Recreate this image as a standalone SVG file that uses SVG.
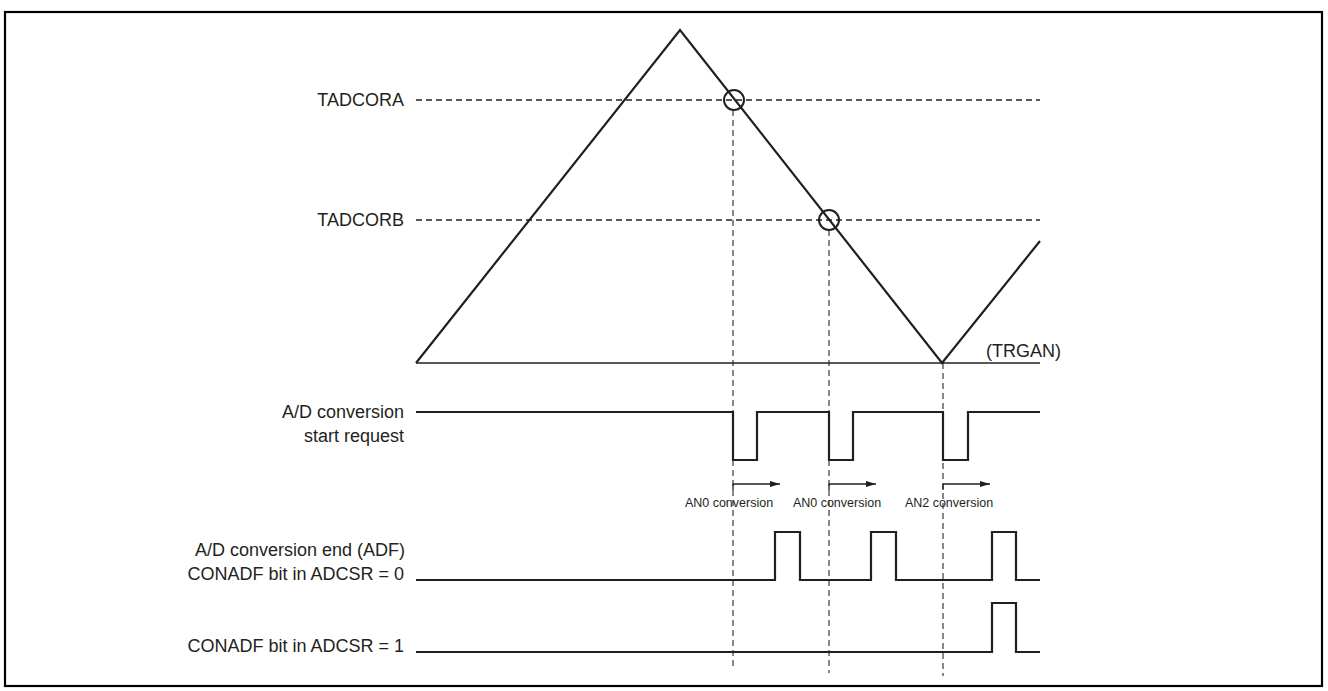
<svg xmlns="http://www.w3.org/2000/svg" width="1328" height="691" viewBox="0 0 1328 691">
<style>
.frame{fill:none;stroke:#000;stroke-width:2.2}
.wave{fill:none;stroke:#231f20;stroke-width:2.2;stroke-linejoin:miter}
.base{fill:none;stroke:#231f20;stroke-width:1.4}
.hd{fill:none;stroke:#222;stroke-width:1.3;stroke-dasharray:6 4}
.vd{fill:none;stroke:#555;stroke-width:1.4;stroke-dasharray:6 4}
.circ{fill:none;stroke:#231f20;stroke-width:2}
.arr{fill:none;stroke:#231f20;stroke-width:1.3}
.lbl{font-family:"Liberation Sans",Arial,sans-serif;font-size:18px;fill:#231f20}
.sm{font-family:"Liberation Sans",Arial,sans-serif;font-size:12.5px;fill:#231f20;text-anchor:middle}
</style>
<defs>
<marker id="ah" viewBox="0 0 10 6" refX="10" refY="3" markerWidth="10" markerHeight="6" markerUnits="userSpaceOnUse" orient="auto">
<path d="M0,0 L10,3 L0,6 Z" fill="#231f20"/>
</marker>
</defs>
<rect class="frame" x="5" y="12" width="1317" height="674"/>
<g id="connectors">
<line class="hd" x1="416" y1="100" x2="1040" y2="100"/>
<line class="hd" x1="416" y1="220" x2="1040" y2="220"/>
<line class="vd" x1="733" y1="110" x2="733" y2="670"/>
<line class="vd" x1="829" y1="230" x2="829" y2="673"/>
<line class="vd" x1="943" y1="363" x2="943" y2="676"/>
<line class="arr" x1="733" y1="490" x2="733" y2="484"/>
<line class="arr" x1="733" y1="484" x2="780" y2="484" marker-end="url(#ah)"/>
<line class="arr" x1="829" y1="490" x2="829" y2="484"/>
<line class="arr" x1="829" y1="484" x2="876" y2="484" marker-end="url(#ah)"/>
<line class="arr" x1="943" y1="490" x2="943" y2="484"/>
<line class="arr" x1="943" y1="484" x2="990" y2="484" marker-end="url(#ah)"/>
</g>
<g id="counter">
<line class="base" x1="416" y1="363" x2="1040" y2="363"/>
<polyline class="wave" points="416,363 680,30 942,363 1040,241"/>
<circle class="circ" cx="734" cy="100" r="10"/>
<circle class="circ" cx="829" cy="220" r="10"/>
<text class="lbl" x="986" y="357">(TRGAN)</text>
</g>
<g id="tadcora"><text class="lbl" x="404" y="106" text-anchor="end">TADCORA</text></g>
<g id="tadcorb"><text class="lbl" x="404" y="226" text-anchor="end">TADCORB</text></g>
<g id="start-request">
<text class="lbl" x="404" y="418" text-anchor="end">A/D conversion</text>
<text class="lbl" x="404" y="442" text-anchor="end">start request</text>
<polyline class="wave" points="416,412 733,412 733,460 757,460 757,412 829,412 829,460 853,460 853,412 943,412 943,460 968,460 968,412 1040,412"/>
</g>
<g id="conversion-labels">
<text class="sm" x="729" y="507">AN0 conversion</text>
<text class="sm" x="837" y="507">AN0 conversion</text>
<text class="sm" x="949" y="507">AN2 conversion</text>
</g>
<g id="adf0">
<text class="lbl" x="405" y="556" text-anchor="end">A/D conversion end (ADF)</text>
<text class="lbl" x="404" y="580" text-anchor="end">CONADF bit in ADCSR = 0</text>
<polyline class="wave" points="416,580 775,580 775,532 800,532 800,580 871,580 871,532 896,532 896,580 992,580 992,532 1016,532 1016,580 1040,580"/>
</g>
<g id="adf1">
<text class="lbl" x="404" y="652" text-anchor="end">CONADF bit in ADCSR = 1</text>
<polyline class="wave" points="416,652 992,652 992,603 1016,603 1016,652 1040,652"/>
</g>
</svg>
